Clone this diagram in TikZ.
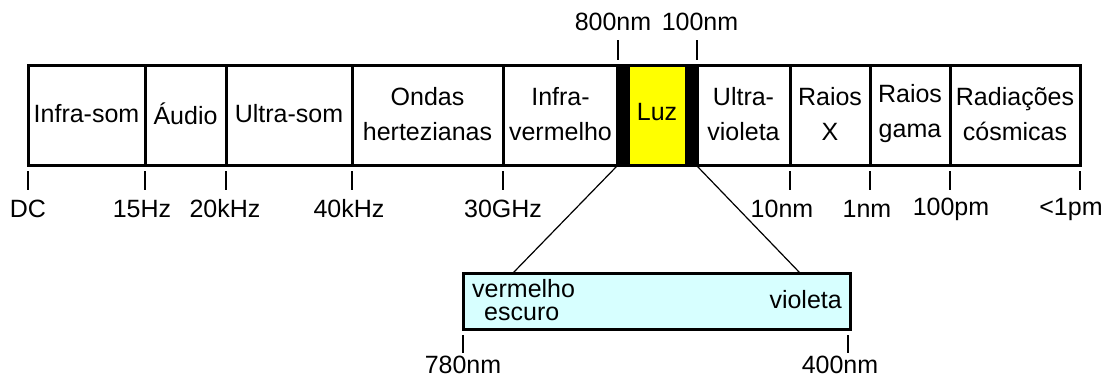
\documentclass[tikz,border=0pt]{standalone}
\usepackage{fontspec}
\setmainfont{Liberation Sans}
\definecolor{luzyellow}{RGB}{255,255,0}
\definecolor{lightcyan}{RGB}{215,255,255}
\begin{document}
\begin{tikzpicture}[x=1pt,y=-1pt,font=\fontsize{25}{35}\selectfont,
    cell/.style={line width=3pt},
    tick/.style={line width=1.5pt},
    lbl/.style={align=center,inner sep=0pt},
    ticklbl/.style={inner sep=0pt}]
    \useasboundingbox (0,0) rectangle (1105,376);

    % faixas do espectro
    \foreach \xa/\xb/\nm/\txt in {28/145/infrasom/Infra-som, 145/226/audio/Áudio,
        226/352/ultrasom/Ultra-som, 352/503/ondas/{Ondas\\hertezianas},
        503/618/infraverm/{Infra-\\vermelho}, 697/790/ultraviol/{Ultra-\\violeta},
        790/870/raiosx/{Raios\\X}, 870/950/raiosgama/{Raios\\gama},
        950/1080/cosmicas/{Radiações\\cósmicas}} {
      \draw[cell] (\xa,65) rectangle (\xb,165);
      \node[lbl] (\nm) at ({(\xa+\xb)/2},114) {\txt};
    }

    % luz visivel
    \fill (617,65) rectangle (630,165);
    \fill[luzyellow] (630,66.5) rectangle (685,163.5);
    \fill (685,65) rectangle (697,165);
    \draw[cell] (617,65) rectangle (697,165);
    \node[lbl] (luz) at (657,112) {Luz};

    % escala inferior
    \foreach \x/\lx/\nm/\txt in {28/28/dc/DC, 145/142/hz/15Hz, 226/225/khz/20kHz,
        352/349/khzb/40kHz, 503/503/ghz/30GHz, 790/782/nmx/10nm, 870/867/nmg/1nm,
        950/951/pm/100pm, 1080/1071/lpm/{<1pm}} {
      \draw[tick] (\x,171) -- (\x,190);
      \node[ticklbl] (\nm) at (\lx,209) {\txt};
    }

    % escala superior
    \draw[tick] (618,40) -- (618,60);
    \draw[tick] (697,40) -- (697,60);
    \node[ticklbl] (nmsup) at (613,22) {800nm};
    \node[ticklbl] (nmuv) at (700,22) {100nm};

    % ampliacao da luz
    \coordinate (luzesq) at (617,166);
    \coordinate (luzdir) at (697,166);
    \coordinate (ampesq) at (513,273);
    \coordinate (ampdir) at (800,273);
    \draw[line width=1.2pt] (luzesq) -- (ampesq);
    \draw[line width=1.2pt] (luzdir) -- (ampdir);

    \draw[cell,fill=lightcyan] (463,273) rectangle (850,329);
    \node[ticklbl,anchor=base west] (verm) at (472,297) {vermelho};
    \node[ticklbl,anchor=base west] (escuro) at (484,320) {escuro};
    \node[ticklbl,anchor=east] (viol) at (842,300) {violeta};

    \draw[tick] (463,335) -- (463,353);
    \draw[tick] (848,335) -- (848,353);
    \node[ticklbl,anchor=base] (nmverm) at (463,373) {780nm};
    \node[ticklbl,anchor=base] (nmviol) at (840,373) {400nm};
  \end{tikzpicture}
\end{document}
